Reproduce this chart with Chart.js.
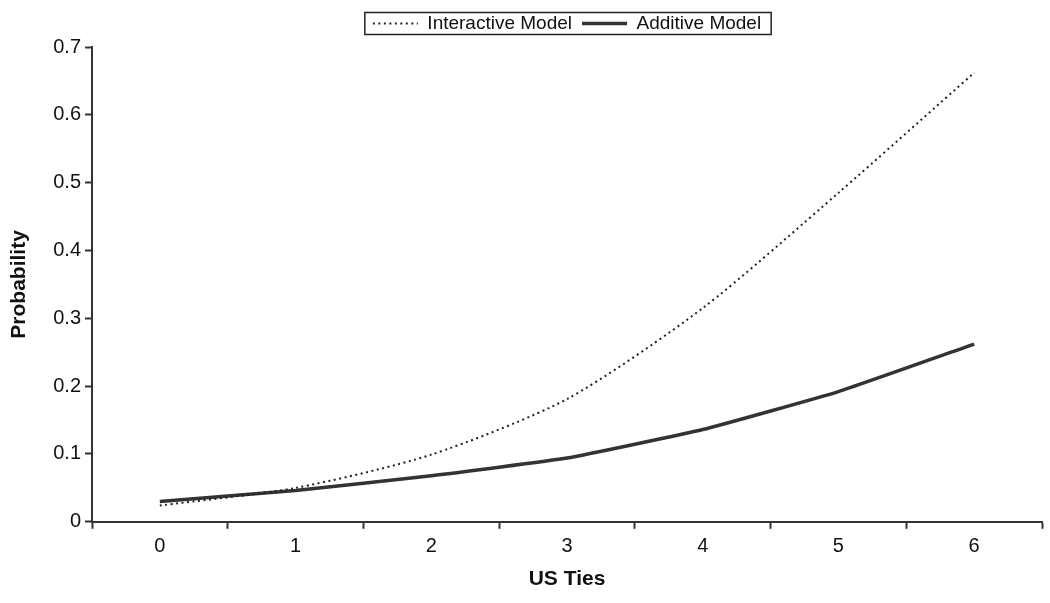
<!DOCTYPE html>
<html>
<head>
<meta charset="utf-8">
<script src="https://cdn.jsdelivr.net/npm/chart.js@4/dist/chart.umd.min.js"></script>
<style>
  html, body { margin: 0; padding: 0; background: #fff; }
  #wrap { width: 1050px; height: 603px; }
</style>
</head>
<body>
<div id="wrap"><canvas id="chart"></canvas></div>
<script>
const ties = ["0", "1", "2", "3", "4", "5", "6"];
const interactiveModel = [0.024, 0.05, 0.099, 0.181, 0.315, 0.485, 0.662];
const additiveModel = [0.030, 0.046, 0.068, 0.094, 0.136, 0.192, 0.262];

Chart.defaults.font.family = "'Liberation Sans', Arial, Helvetica, sans-serif";
Chart.defaults.color = "#111";

// frame around legend items + a bit more room under the legend
const legendBorder = {
  id: "legendBorder",
  beforeInit(chart) {
    const fit = chart.legend.fit;
    chart.legend.fit = function () {
      fit.call(this);
      this.height += 4;
    };
  },
  afterDraw(chart) {
    const boxes = chart.legend && chart.legend.legendHitBoxes;
    if (!boxes || !boxes.length) return;
    let l = Infinity, r = -Infinity, t = Infinity, b = -Infinity;
    boxes.forEach(h => {
      l = Math.min(l, h.left); r = Math.max(r, h.left + h.width);
      t = Math.min(t, h.top); b = Math.max(b, h.top + h.height);
    });
    const ctx = chart.ctx;
    ctx.save();
    ctx.strokeStyle = "#222";
    ctx.lineWidth = 1.5;
    ctx.strokeRect(l - 8, t - 1.5, r - l + 18, b - t + 3);
    ctx.restore();
  }
};

const ctx = document.getElementById("chart").getContext("2d");
new Chart(ctx, {
  type: "line",
  data: {
    labels: ties,
    datasets: [
      {
        label: "Interactive Model",
        data: interactiveModel,
        borderColor: "#222",
        borderWidth: 2,
        borderDash: [2, 3.5],
        pointRadius: 0,
        tension: 0.25,
        fill: false
      },
      {
        label: "Additive Model",
        data: additiveModel,
        borderColor: "#333",
        borderWidth: 3.5,
        pointRadius: 0,
        tension: 0.12,
        fill: false
      }
    ]
  },
  options: {
    responsive: true,
    maintainAspectRatio: false,
    animation: false,
    layout: { padding: { top: 4, right: 8, bottom: 11, left: 7 } },
    plugins: {
      tooltip: { enabled: false },
      legend: {
        position: "top",
        fullSize: false,
        labels: {
          usePointStyle: true,
          pointStyle: "line",
          pointStyleWidth: 45,
          boxHeight: 10,
          padding: 10,
          color: "#111",
          font: { size: 19 },
          // take dash and width from the line, not the point
          generateLabels(chart) {
            const items = Chart.defaults.plugins.legend.labels.generateLabels(chart);
            items.forEach(it => {
              const ds = chart.data.datasets[it.datasetIndex];
              it.lineDash = ds.borderDash || [];
              it.lineWidth = ds.borderWidth;
              it.strokeStyle = ds.borderColor;
            });
            return items;
          }
        }
      }
    },
    scales: {
      x: {
        offset: true,
        grid: {
          offset: true,
          drawOnChartArea: false,
          drawTicks: true,
          tickLength: 7,
          tickWidth: 2,
          tickColor: "#333"
        },
        border: { color: "#333", width: 2 },
        ticks: { font: { size: 20 }, padding: 6, color: "#111" },
        title: {
          display: true,
          text: "US Ties",
          font: { size: 21, weight: "bold" },
          color: "#111",
          padding: { top: 2, bottom: 0 }
        }
      },
      y: {
        min: 0,
        max: 0.7,
        grid: {
          drawOnChartArea: false,
          drawTicks: true,
          tickLength: 7,
          tickWidth: 2,
          tickColor: "#333"
        },
        border: { color: "#333", width: 2 },
        ticks: { stepSize: 0.1, font: { size: 20 }, padding: 4, color: "#111" },
        title: {
          display: true,
          text: "Probability",
          font: { size: 21, weight: "bold" },
          color: "#111",
          padding: { top: 0, bottom: 17 }
        }
      }
    }
  },
  plugins: [legendBorder]
});
</script>
</body>
</html>
